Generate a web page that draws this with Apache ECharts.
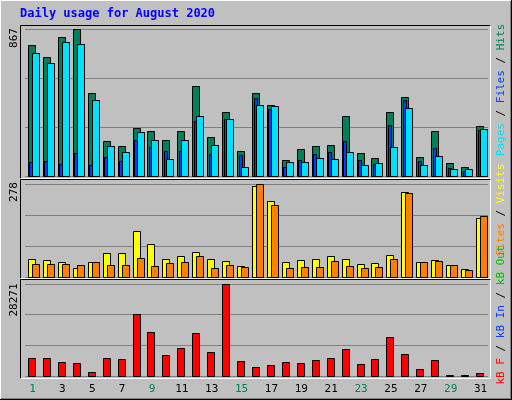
<!DOCTYPE html>
<html><head><meta charset="utf-8">
<script src="https://cdn.jsdelivr.net/npm/echarts@6/dist/echarts.min.js"></script>
<style>html,body{margin:0;padding:0;background:#C0C0C0}#c{width:512px;height:400px}</style>
</head><body><div id="c"></div>
<script>
const days = ['1','2','3','4','5','6','7','8','9','10','11','12','13','14','15','16','17','18','19','20','21','22','23','24','25','26','27','28','29','30','31'];
const weekend = [1,2,8,9,15,16,22,23,29,30];
const hits  = [773,702,820,867,490,208,178,284,267,214,267,531,231,378,149,490,420,96,161,178,184,355,137,108,378,467,114,267,78,55,296];
const files = [726,667,790,779,449,178,143,261,214,102,214,355,184,337,55,420,414,84,84,108,102,143,67,78,173,402,67,120,43,43,278];
const pages = [84,90,73,137,67,114,90,214,173,149,149,326,131,337,125,461,396,55,96,131,143,208,96,73,302,449,90,167,49,31,273];
const visits = [55,52,46,28,46,73,73,139,100,55,64,76,55,49,34,272,227,46,52,55,64,55,40,43,67,254,46,52,37,25,176];
const sites  = [40,40,40,37,46,37,37,58,34,43,46,64,28,37,31,278,215,28,31,31,49,34,28,31,55,251,46,49,37,22,182];
const kbytes = [5676,5676,4438,4128,1342,5676,5366,18989,13416,6605,8463,13106,7224,28271,4747,2890,3509,4438,4128,5057,5676,8153,3818,5366,11868,6914,2270,5057,400,400,1032];
const maxTop = 867, maxMid = 278, maxBot = 28271;

const chart = echarts.init(document.getElementById('c'), null, {renderer:'canvas'});
const grids = [
  {left:25, right:24, top:29, height:147},
  {left:25, right:24, top:184, height:93},
  {left:25, right:24, top:284, height:92}
];
function xAx(i, show){
  return {type:'category', gridIndex:i, data:days, boundaryGap:true,
    axisLine:{show:false}, axisTick:{show:false}, splitLine:{show:false},
    axisLabel:{show:show, margin:8, fontFamily:'DejaVu Sans Mono', fontSize:11,
      color:(v)=>weekend.includes(+v)?'#00805A':'#000'}};
}
function yAx(i, max){
  return {type:'value', gridIndex:i, min:0, max:max, interval:max/3,
    axisLine:{show:false}, axisTick:{show:false}, axisLabel:{show:false},
    splitLine:{show:true, lineStyle:{color:'#808080', width:1}}};
}
function barSeries(i, data, color, off, w, z){
  return {type:'custom', xAxisIndex:i, yAxisIndex:i, z:z,
    data:data.map((v,k)=>[k,v]),
    renderItem:(params, api)=>{
      const top = api.coord([api.value(0), api.value(1)]);
      const base = api.coord([api.value(0), 0]);
      const x = Math.round(top[0]+off)+0.5;
      const y = Math.round(top[1])+0.5;
      const b = Math.round(base[1])+0.5;
      return {type:'rect', shape:{x:x, y:y, width:w, height:Math.max(b-y,1)},
        style:{fill:color, stroke:'#000', lineWidth:1}};
    }};
}
const mono = 'DejaVu Sans Mono';
function vtext(x, y, rich, parts){
  return {type:'text', x:x, y:y, rotation:Math.PI/2,
    style:{text:parts, rich:rich, fontFamily:mono, fontSize:11, fontWeight:'bold', align:'center', verticalAlign:'middle'}};
}
const rich = {
  g:{fill:'#00805A',fontFamily:mono,fontSize:11}, b:{fill:'#0040FF',fontFamily:mono,fontSize:11},
  c:{fill:'#00E0FF',fontFamily:mono,fontSize:11}, k:{fill:'#000',fontFamily:mono,fontSize:11},
  y:{fill:'#FFFF00',fontFamily:mono,fontSize:11}, o:{fill:'#FF8000',fontFamily:mono,fontSize:11},
  r:{fill:'#FF0000',fontFamily:mono,fontSize:11}, gg:{fill:'#00C000',fontFamily:mono,fontSize:11}
};
function panel(y1, y2){
  return [
    {type:'line', shape:{x1:20.5,y1:y1+0.5,x2:490.5,y2:y1+0.5}, style:{stroke:'#000',lineWidth:1}, z:-1},
    {type:'line', shape:{x1:20.5,y1:y1+0.5,x2:20.5,y2:y2+0.5}, style:{stroke:'#000',lineWidth:1}, z:-1},
    {type:'line', shape:{x1:20.5,y1:y2+0.5,x2:490.5,y2:y2+0.5}, style:{stroke:'#fff',lineWidth:1}, z:-1},
    {type:'line', shape:{x1:490.5,y1:y1+0.5,x2:490.5,y2:y2+0.5}, style:{stroke:'#fff',lineWidth:1}, z:-1}
  ];
}
chart.setOption({
  backgroundColor:'#C0C0C0',
  animation:false,
  grid:grids,
  xAxis:[xAx(0,false), xAx(1,false), xAx(2,true)],
  yAxis:[yAx(0,maxTop), yAx(1,maxMid), yAx(2,maxBot)],
  series:[
    barSeries(0, hits, '#00805A', -4.5, 7, 2),
    barSeries(0, pages, '#0040FF', -3, 3, 3),
    barSeries(0, files, '#00E0FF', -0.5, 7, 4),
    barSeries(1, visits, '#FFFF00', -4.5, 7, 2),
    barSeries(1, sites, '#FF8000', -0.5, 7, 3),
    barSeries(2, kbytes, '#FF0000', -4.5, 7, 2)
  ],
  graphic:[
    {type:'line', shape:{x1:0.5,y1:0.5,x2:511.5,y2:0.5}, style:{stroke:'#fff'}},
    {type:'line', shape:{x1:0.5,y1:0.5,x2:0.5,y2:399.5}, style:{stroke:'#fff'}},
    {type:'line', shape:{x1:0,y1:399.5,x2:512,y2:399.5}, style:{stroke:'#000'}},
    {type:'line', shape:{x1:511.5,y1:0,x2:511.5,y2:400}, style:{stroke:'#000'}},
    {type:'line', shape:{x1:1,y1:398.5,x2:511,y2:398.5}, style:{stroke:'#808080'}},
    {type:'line', shape:{x1:510.5,y1:1,x2:510.5,y2:399}, style:{stroke:'#808080'}},
    ...panel(25,178), ...panel(179,278), ...panel(279,378),
    {type:'text', x:20, y:14, style:{text:'Daily usage for August 2020', fill:'#0000FF', fontFamily:mono, fontSize:12, fontWeight:'bold', verticalAlign:'middle'}},
    {type:'text', x:14, y:38, rotation:Math.PI/2, style:{text:String(maxTop), fill:'#000', fontFamily:mono, fontSize:11, align:'center', verticalAlign:'middle'}},
    {type:'text', x:14, y:192, rotation:Math.PI/2, style:{text:String(maxMid), fill:'#000', fontFamily:mono, fontSize:11, align:'center', verticalAlign:'middle'}},
    {type:'text', x:14, y:300, rotation:Math.PI/2, style:{text:String(maxBot), fill:'#000', fontFamily:mono, fontSize:11, align:'center', verticalAlign:'middle'}},
    vtext(501, 90, rich, '{c|Pages}{k| / }{b|Files}{k| / }{g|Hits}'),
    vtext(501, 210, rich, '{o|Sites}{k| / }{y|Visits}'),
    vtext(501, 315, rich, '{r|kB F}{k| / }{b|kB In}{k| / }{gg|kB Out}')
  ]
});
</script></body></html>
